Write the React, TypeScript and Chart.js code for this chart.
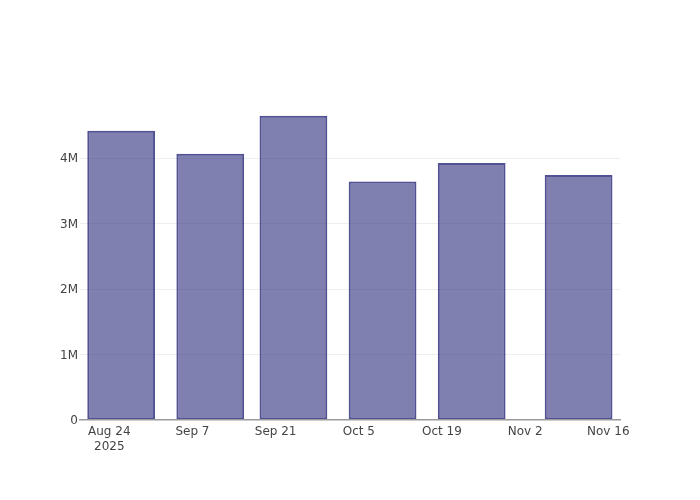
import React, { useEffect, useRef } from "react";
import { Chart, registerables } from "chart.js";

Chart.register(...registerables);

const baseDate = "2025-08-24";
const barDates = ["2025-08-26", "2025-09-10", "2025-09-24", "2025-10-09", "2025-10-24", "2025-11-11"];
const barValues = [4420000, 4070000, 4650000, 3645000, 3930000, 3745000];
const xTickDays = [0, 14, 28, 42, 56, 70, 84];
const xTickLabels: (string | string[])[] = [["Aug 24", "2025"], "Sep 7", "Sep 21", "Oct 5", "Oct 19", "Nov 2", "Nov 16"];
const yTickValues = [0, 1000000, 2000000, 3000000, 4000000];
const yTickLabels = ["0", "1M", "2M", "3M", "4M"];
const xMin = -4.93;
const xMax = 85.97;
const yMax = 4892000;

const dayOffset = (d: string) =>
  Math.round((Date.parse(d + "T00:00:00Z") - Date.parse(baseDate + "T00:00:00Z")) / 86400000);

export default function App() {
  const ref = useRef<HTMLCanvasElement | null>(null);
  useEffect(() => {
    if (!ref.current) return;
    Chart.defaults.font.family = "'DejaVu Sans', sans-serif";
    Chart.defaults.font.size = 12;
    Chart.defaults.color = "#444";
    const chart = new Chart(ref.current, {
      type: "bar",
      data: {
        datasets: [
          {
            data: barDates.map((d, i) => ({ x: dayOffset(d), y: barValues[i] })),
            backgroundColor: "rgba(42,42,124,0.6)",
            borderColor: "rgba(50,50,128,0.85)",
            borderWidth: 2,
            borderSkipped: false,
            categoryPercentage: 1,
            barPercentage: 0.815,
          },
        ],
      },
      options: {
        animation: false,
        responsive: true,
        maintainAspectRatio: false,
        layout: { padding: { top: 100, right: 80, left: 0, bottom: 0 } },
        plugins: { legend: { display: false }, tooltip: { enabled: false } },
        scales: {
          x: {
            type: "linear",
            min: xMin,
            max: xMax,
            offset: false,
            grid: { display: false, offset: false, drawTicks: false },
            border: { display: true, color: "#9a9a9a", width: 1.5, z: 1 },
            afterBuildTicks: (scale: any) => {
              scale.ticks = xTickDays.map((v) => ({ value: v }));
            },
            afterFit: (scale: any) => {
              scale.height = 80;
            },
            ticks: {
              padding: 4,
              maxRotation: 0,
              autoSkip: false,
              font: { lineHeight: 1.25 },
              callback: (v: any) => {
                const i = xTickDays.indexOf(Number(v));
                return i >= 0 ? xTickLabels[i] : "";
              },
            },
          },
          y: {
            type: "linear",
            min: 0,
            max: yMax,
            grid: {
              drawTicks: false,
              color: (ctx: any) => (ctx.tick && ctx.tick.value === 0 ? "rgba(0,0,0,0)" : "#eeeeee"),
              lineWidth: 1,
            },
            border: { display: false },
            afterBuildTicks: (scale: any) => {
              scale.ticks = yTickValues.map((v) => ({ value: v }));
            },
            afterFit: (scale: any) => {
              scale.width = 80;
            },
            ticks: {
              padding: 2,
              labelOffset: 1,
              callback: (v: any) => {
                const i = yTickValues.indexOf(Number(v));
                return i >= 0 ? yTickLabels[i] : "";
              },
            },
          },
        },
      },
    } as any);
    return () => chart.destroy();
  }, []);
  return (
    <div style={{ position: "absolute", left: 0, top: 0, width: 700, height: 500, background: "#fff" }}>
      <canvas ref={ref} />
    </div>
  );
}
